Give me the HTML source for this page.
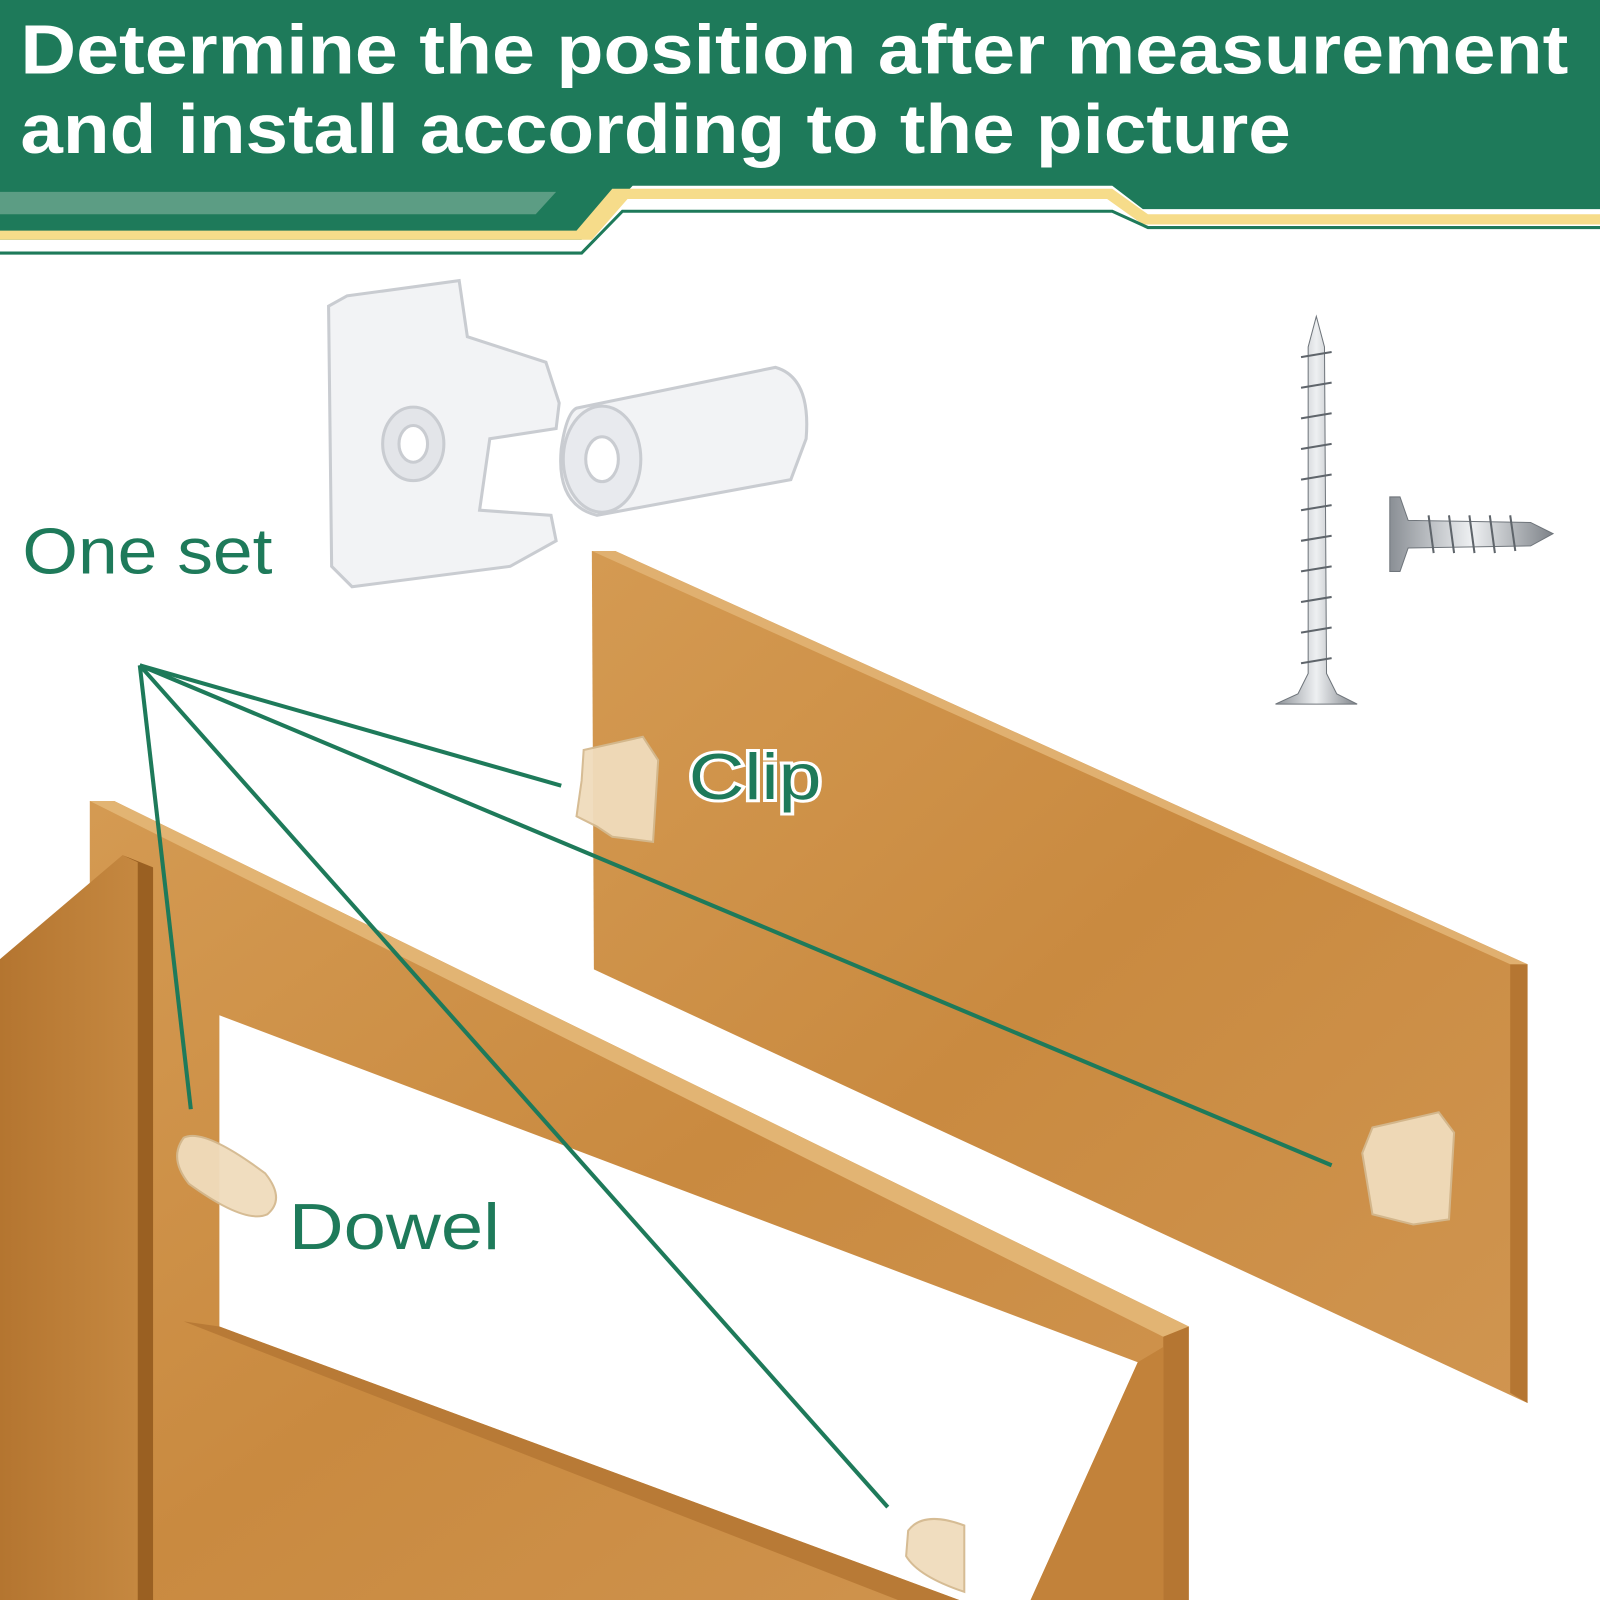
<!DOCTYPE html>
<html><head><meta charset="utf-8"><style>
html,body{margin:0;padding:0;background:#fff;width:1600px;height:1600px;overflow:hidden}
svg{display:block}
</style></head><body>
<svg width="1600" height="1600" viewBox="0 0 1568 1568" xmlns="http://www.w3.org/2000/svg">
<defs>
<linearGradient id="wood" x1="0" y1="0" x2="1" y2="1">
<stop offset="0" stop-color="#d49a52"/><stop offset="0.5" stop-color="#c98a40"/><stop offset="1" stop-color="#d09550"/></linearGradient>
<linearGradient id="woodd" x1="0" y1="0" x2="1" y2="0">
<stop offset="0" stop-color="#b47530"/><stop offset="1" stop-color="#c78a42"/></linearGradient>
<linearGradient id="steel" x1="0" y1="0" x2="1" y2="0">
<stop offset="0" stop-color="#8a8f95"/><stop offset="0.5" stop-color="#eef0f2"/><stop offset="1" stop-color="#7d8288"/></linearGradient>
</defs>
<rect width="1568" height="1568" fill="#fff"/>
<polygon points="0,0 1568,0 1568,205 1120,205 1090,182 620,182 570,235 0,235" fill="#1e7a5a"/>
<polygon points="0,188 545,188 525,210 0,210" fill="#5c9d84"/>
<polygon points="600,185 1090,185 1125,210 1568,210 1568,220 1120,220 1085,195 615,195 580,235 0,235 0,226 565,226" fill="#f6dc8a"/>
<polyline points="0,248 570,248 610,207 1090,207 1125,223 1568,223" fill="none" stroke="#1e7a5a" stroke-width="3"/>
<text x="20" y="72" font-family="Liberation Sans, sans-serif" font-weight="bold" font-size="68" fill="#fff" textLength="1517" lengthAdjust="spacingAndGlyphs">Determine the position after measurement</text>
<text x="20" y="150" font-family="Liberation Sans, sans-serif" font-weight="bold" font-size="68" fill="#fff" textLength="1245" lengthAdjust="spacingAndGlyphs">and install according to the picture</text>
<polygon points="580,540 603,540 1497,945 1497,1375 582,950" fill="url(#wood)"/>
<polygon points="1480,945 1497,945 1497,1375 1480,1365" fill="#b57632"/>
<polygon points="580,540 603,540 1497,945 1480,945" fill="#e0b070"/>
<path d="M88,785 L112,785 L1165,1300 L1165,1568 L88,1568 Z M215,995 L215,1300 L940,1568 L1010,1568 L1115,1335 Z" fill="url(#wood)" fill-rule="evenodd"/>
<polygon points="88,785 112,785 1165,1300 1140,1310" fill="#e2b473"/>
<polygon points="1140,1310 1165,1300 1165,1568 1140,1568" fill="#b57632"/>
<polygon points="1115,1335 1140,1320 1140,1568 1010,1568" fill="#c2823a"/>
<polygon points="180,1295 215,1300 940,1568 880,1568" fill="#b87a36"/>
<polygon points="0,940 120,838 150,850 150,1568 0,1568" fill="url(#woodd)"/>
<polygon points="120,838 150,850 150,1568 135,1568 135,845" fill="#9a6022"/>
<g fill="#f2f3f5" stroke="#c9ccd1" stroke-width="3">
<path d="M340,290 L450,275 L458,330 L535,355 L548,395 L545,420 L480,430 L470,500 L540,505 L545,530 L500,555 L345,575 L325,555 L322,300 Z"/>
<ellipse cx="405" cy="435" rx="30" ry="36" fill="#e3e5e9"/>
<ellipse cx="405" cy="435" rx="14" ry="18" fill="#fff"/>
<path d="M565,400 L760,360 Q795,370 790,430 L775,470 L585,505 Q545,495 550,440 Q555,405 565,400 Z"/>
<ellipse cx="590" cy="450" rx="38" ry="52" fill="#e8eaee"/>
<ellipse cx="590" cy="450" rx="16" ry="22" fill="#fff"/>
</g>
<polygon points="1290,310 1298,340 1300,660 1310,680 1330,690 1250,690 1272,680 1282,660 1282,340" fill="url(#steel)" stroke="#6f757b" stroke-width="1"/>
<g stroke="#5f656b" stroke-width="2">
<line x1="1275" y1="350" x2="1305" y2="345"/><line x1="1275" y1="380" x2="1305" y2="375"/><line x1="1275" y1="410" x2="1305" y2="405"/><line x1="1275" y1="440" x2="1305" y2="435"/><line x1="1275" y1="470" x2="1305" y2="465"/><line x1="1275" y1="500" x2="1305" y2="495"/><line x1="1275" y1="530" x2="1305" y2="525"/><line x1="1275" y1="560" x2="1305" y2="555"/><line x1="1275" y1="590" x2="1305" y2="585"/><line x1="1275" y1="620" x2="1305" y2="615"/><line x1="1275" y1="650" x2="1305" y2="645"/>
</g>
<polygon points="1362,487 1372,487 1380,510 1500,512 1522,523 1500,535 1380,537 1372,560 1362,560" fill="url(#steel)" stroke="#6f757b" stroke-width="1"/>
<g stroke="#5f656b" stroke-width="2">
<line x1="1400" y1="505" x2="1405" y2="542"/><line x1="1420" y1="505" x2="1425" y2="542"/><line x1="1440" y1="505" x2="1445" y2="542"/><line x1="1460" y1="505" x2="1465" y2="542"/><line x1="1480" y1="505" x2="1485" y2="540"/>
</g>
<g fill="#f0dcbc" stroke="#d4b98f" stroke-width="2" opacity="0.95">
<path d="M572,735 L630,722 L645,745 L640,825 L600,820 L585,810 L565,800 L570,765 Z"/>
<path d="M1345,1105 L1410,1090 L1425,1110 L1420,1195 L1385,1200 L1345,1190 L1335,1130 Z"/>
<path d="M180,1115 Q200,1105 260,1150 Q280,1175 262,1190 Q240,1200 185,1160 Q165,1135 180,1115 Z"/>
<path d="M890,1500 Q905,1480 945,1495 L945,1560 Q900,1545 888,1525 Z"/>
</g>
<g stroke="#1e7a5a" stroke-width="4" fill="none">
<line x1="137" y1="652" x2="550" y2="770"/>
<line x1="137" y1="652" x2="1305" y2="1142"/>
<line x1="137" y1="652" x2="187" y2="1087"/>
<line x1="137" y1="652" x2="870" y2="1477"/>
</g>
<g font-family="Liberation Sans, sans-serif" fill="#1e7a5a">
<text x="22" y="562" font-size="64" textLength="245" lengthAdjust="spacingAndGlyphs">One set</text>
<text x="675" y="783" font-size="64" stroke="#fff" stroke-width="6" paint-order="stroke" textLength="130" lengthAdjust="spacingAndGlyphs">Clip</text>
<text x="283" y="1224" font-size="64" textLength="207" lengthAdjust="spacingAndGlyphs">Dowel</text>
</g>
</svg>
</body></html>
